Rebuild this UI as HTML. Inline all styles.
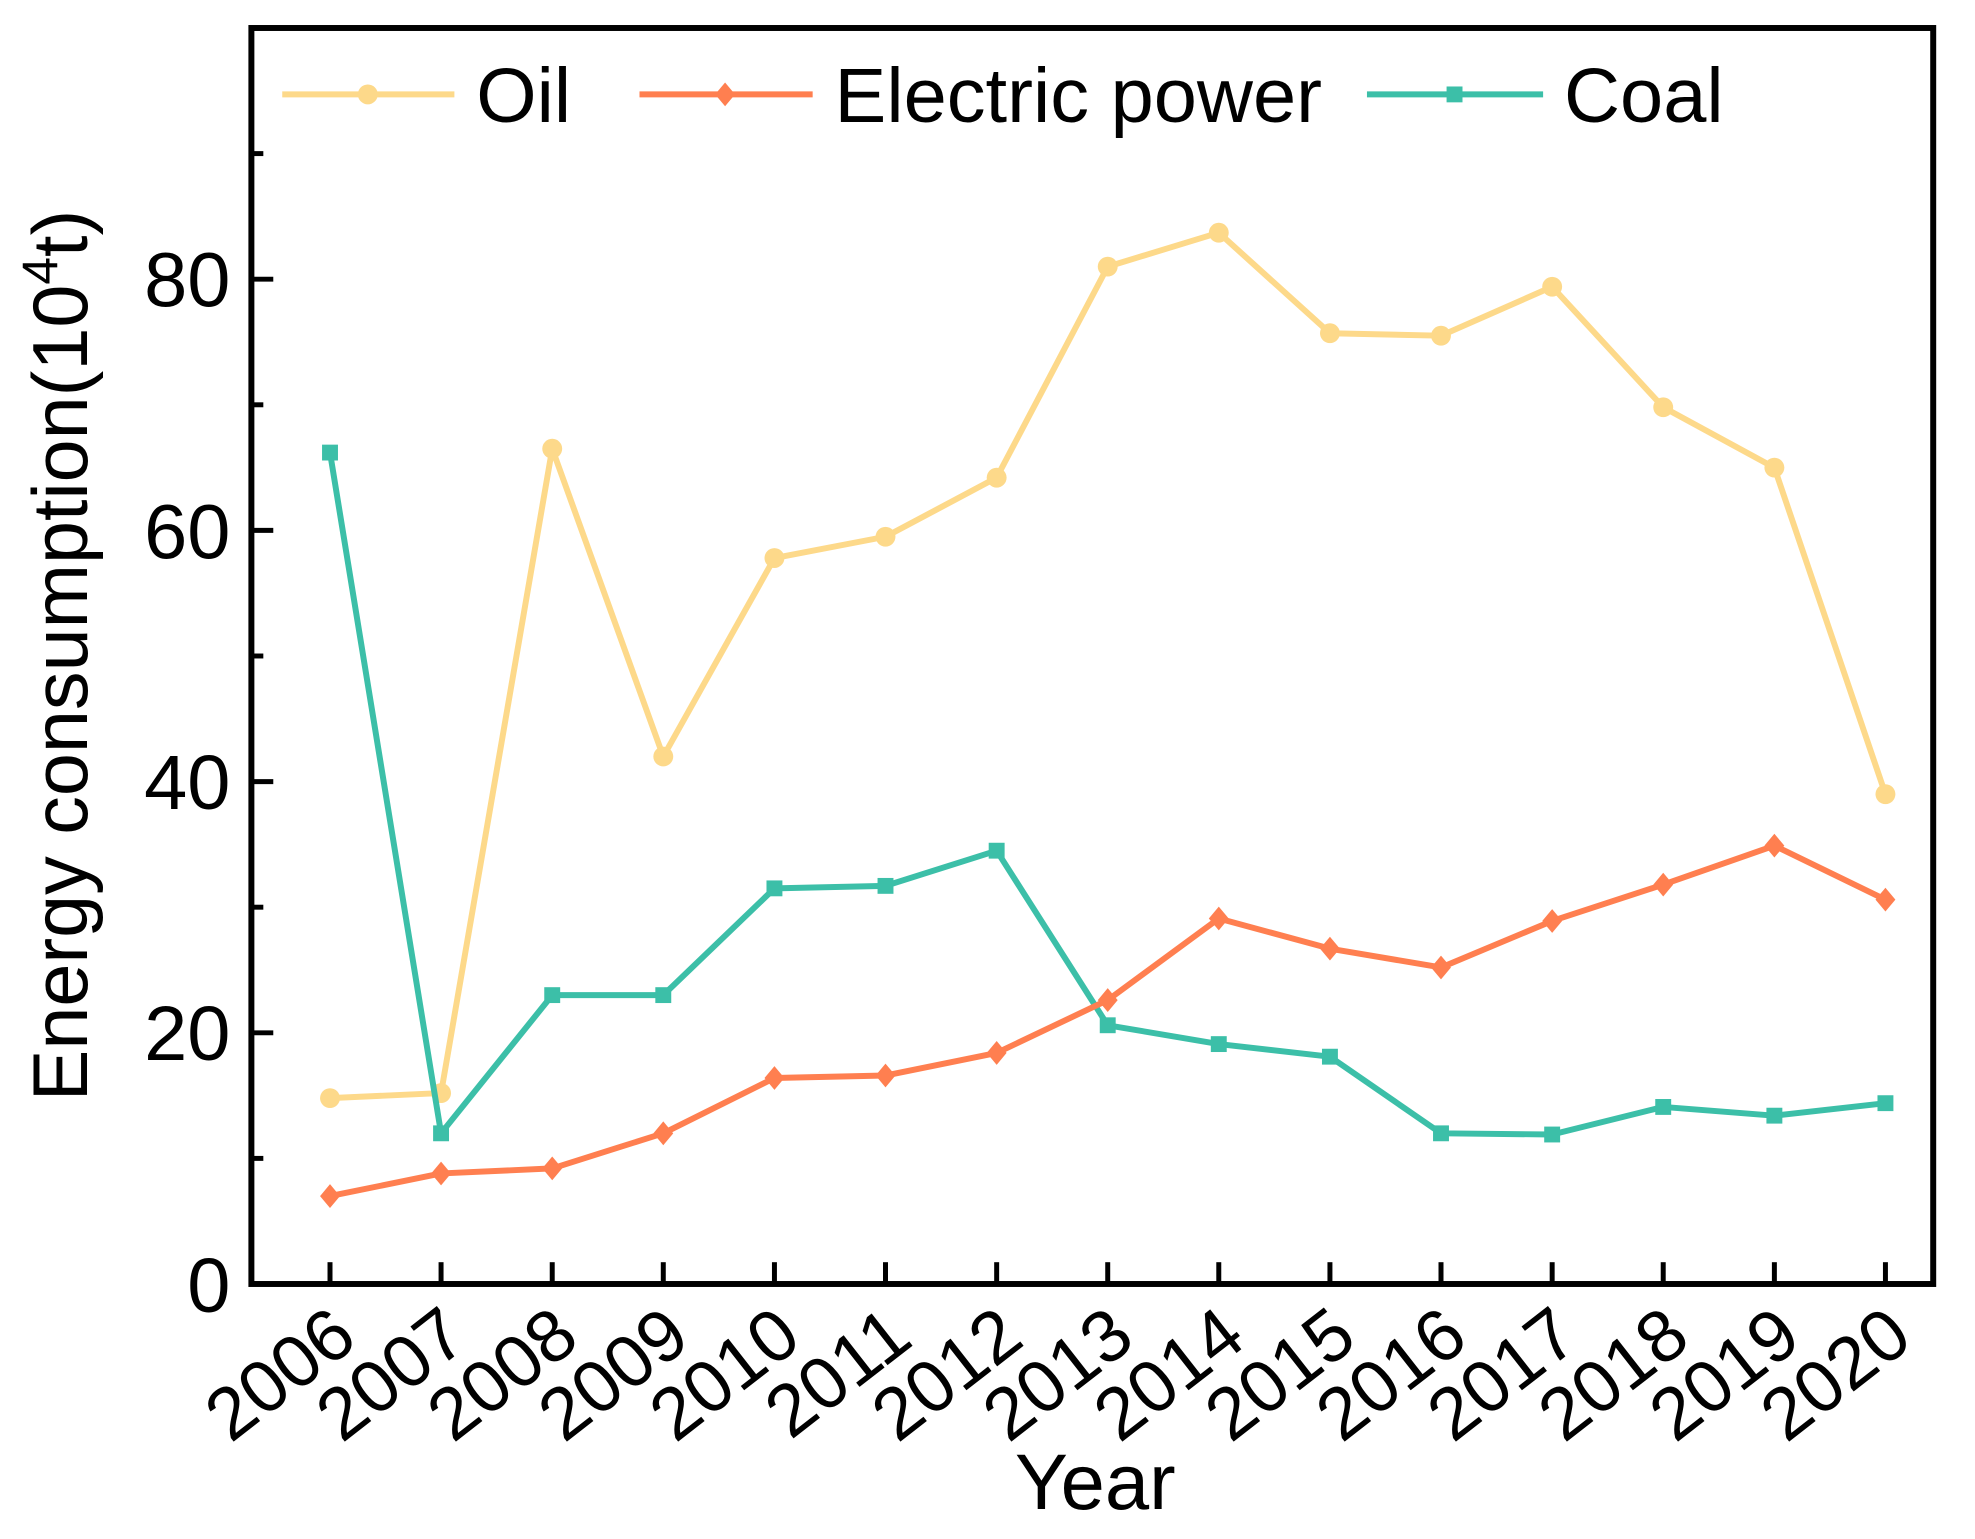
<!DOCTYPE html>
<html><head><meta charset="utf-8"><style>html,body{margin:0;padding:0;background:#fff;}svg{display:block}</style></head>
<body>
<svg width="1975" height="1539" viewBox="0 0 1975 1539" xmlns="http://www.w3.org/2000/svg" font-family="Liberation Sans, Arial, sans-serif">
<defs>
<g id="dia"><path d="M0,-12 L10,0 L0,12 L-10,0 Z"/></g>
</defs>
<g transform="matrix(0.99516 0 0 0.99132 -0.39 3.21)">
<!-- axes box -->
<rect x="253" y="25" width="1690" height="1267" fill="none" stroke="#000" stroke-width="6"/>
<!-- y ticks -->
<g stroke="#000" stroke-width="5">
<line x1="253" y1="1292" x2="275" y2="1292"/><line x1="253" y1="1038.6" x2="275" y2="1038.6"/><line x1="253" y1="785.2" x2="275" y2="785.2"/><line x1="253" y1="531.8" x2="275" y2="531.8"/><line x1="253" y1="278.4" x2="275" y2="278.4"/>
<line x1="253" y1="1165.3" x2="265" y2="1165.3"/><line x1="253" y1="911.9" x2="265" y2="911.9"/><line x1="253" y1="658.5" x2="265" y2="658.5"/><line x1="253" y1="405.1" x2="265" y2="405.1"/><line x1="253" y1="151.7" x2="265" y2="151.7"/>
</g>
<g font-size="78" text-anchor="end" fill="#000">
<text x="232" y="1320">0</text><text x="232" y="1066">20</text><text x="232" y="813">40</text><text x="232" y="560">60</text><text x="232" y="306">80</text>
</g>
<!-- x ticks and labels -->
<g stroke="#000" stroke-width="5">
<line x1="332" y1="1292" x2="332" y2="1270"/><line x1="443.6" y1="1292" x2="443.6" y2="1270"/><line x1="555.3" y1="1292" x2="555.3" y2="1270"/><line x1="666.9" y1="1292" x2="666.9" y2="1270"/><line x1="778.6" y1="1292" x2="778.6" y2="1270"/><line x1="890.2" y1="1292" x2="890.2" y2="1270"/><line x1="1001.9" y1="1292" x2="1001.9" y2="1270"/><line x1="1113.5" y1="1292" x2="1113.5" y2="1270"/><line x1="1225.1" y1="1292" x2="1225.1" y2="1270"/><line x1="1336.8" y1="1292" x2="1336.8" y2="1270"/><line x1="1448.4" y1="1292" x2="1448.4" y2="1270"/><line x1="1560.1" y1="1292" x2="1560.1" y2="1270"/><line x1="1671.7" y1="1292" x2="1671.7" y2="1270"/><line x1="1783.4" y1="1292" x2="1783.4" y2="1270"/><line x1="1895" y1="1292" x2="1895" y2="1270"/>
</g>
<g font-size="74" text-anchor="end" fill="#000">
<text transform="translate(362,1352) rotate(-38)">2006</text>
<text transform="translate(473.6,1352) rotate(-38)">2007</text>
<text transform="translate(585.3,1352) rotate(-38)">2008</text>
<text transform="translate(696.9,1352) rotate(-38)">2009</text>
<text transform="translate(808.6,1352) rotate(-38)">2010</text>
<text transform="translate(920.2,1352) rotate(-38)">2011</text>
<text transform="translate(1031.9,1352) rotate(-38)">2012</text>
<text transform="translate(1143.5,1352) rotate(-38)">2013</text>
<text transform="translate(1255.1,1352) rotate(-38)">2014</text>
<text transform="translate(1366.8,1352) rotate(-38)">2015</text>
<text transform="translate(1478.4,1352) rotate(-38)">2016</text>
<text transform="translate(1590.1,1352) rotate(-38)">2017</text>
<text transform="translate(1701.7,1352) rotate(-38)">2018</text>
<text transform="translate(1813.4,1352) rotate(-38)">2019</text>
<text transform="translate(1925,1352) rotate(-38)">2020</text>
</g>
<text x="1101" y="1519" font-size="80" text-anchor="middle">Year</text>
<text transform="translate(88,658) rotate(-90)" font-size="78" text-anchor="middle">Energy consumption(10<tspan font-size="50" dy="-30">4</tspan><tspan dy="30">t)</tspan></text>
<!-- series -->
<polyline fill="none" stroke="#FDD98A" stroke-width="6" stroke-linejoin="round" points="332,1104.5 443.6,1099.4 555.3,449.4 666.9,759.9 778.6,559.7 890.2,538.2 1001.9,478.6 1113.5,265.7 1225.1,231.5 1336.8,332.9 1448.4,335.4 1560.1,286 1671.7,407.6 1783.4,468.5 1895,797.9"/>
<g fill="#FDD98A"><circle cx="332" cy="1104.5" r="10"/><circle cx="443.6" cy="1099.4" r="10"/><circle cx="555.3" cy="449.4" r="10"/><circle cx="666.9" cy="759.9" r="10"/><circle cx="778.6" cy="559.7" r="10"/><circle cx="890.2" cy="538.2" r="10"/><circle cx="1001.9" cy="478.6" r="10"/><circle cx="1113.5" cy="265.7" r="10"/><circle cx="1225.1" cy="231.5" r="10"/><circle cx="1336.8" cy="332.9" r="10"/><circle cx="1448.4" cy="335.4" r="10"/><circle cx="1560.1" cy="286" r="10"/><circle cx="1671.7" cy="407.6" r="10"/><circle cx="1783.4" cy="468.5" r="10"/><circle cx="1895" cy="797.9" r="10"/></g>
<polyline fill="none" stroke="#3CBFA8" stroke-width="6" stroke-linejoin="round" points="332,453.3 443.6,1140 555.3,1000.6 666.9,1000.6 778.6,892.9 890.2,890.4 1001.9,854.9 1113.5,1031 1225.1,1050 1336.8,1062.7 1448.4,1140 1560.1,1141.2 1671.7,1113.4 1783.4,1122.2 1895,1109.6"/>
<g fill="#3CBFA8"><rect x="324" y="445.3" width="16" height="16"/><rect x="435.6" y="1132" width="16" height="16"/><rect x="547.3" y="992.6" width="16" height="16"/><rect x="658.9" y="992.6" width="16" height="16"/><rect x="770.6" y="884.9" width="16" height="16"/><rect x="882.2" y="882.4" width="16" height="16"/><rect x="993.9" y="846.9" width="16" height="16"/><rect x="1105.5" y="1023" width="16" height="16"/><rect x="1217.1" y="1042" width="16" height="16"/><rect x="1328.8" y="1054.7" width="16" height="16"/><rect x="1440.4" y="1132" width="16" height="16"/><rect x="1552.1" y="1133.2" width="16" height="16"/><rect x="1663.7" y="1105.4" width="16" height="16"/><rect x="1775.4" y="1114.2" width="16" height="16"/><rect x="1887" y="1101.6" width="16" height="16"/></g>
<polyline fill="none" stroke="#FF7F50" stroke-width="6" stroke-linejoin="round" points="332,1203.3 443.6,1180.5 555.3,1175.4 666.9,1140 778.6,1084.2 890.2,1081.7 1001.9,1058.9 1113.5,1005.6 1225.1,923.3 1336.8,953.7 1448.4,972.7 1560.1,925.8 1671.7,889.1 1783.4,849.8 1895,904.3"/>
<g fill="#FF7F50"><use href="#dia" x="332" y="1203.3"/><use href="#dia" x="443.6" y="1180.5"/><use href="#dia" x="555.3" y="1175.4"/><use href="#dia" x="666.9" y="1140"/><use href="#dia" x="778.6" y="1084.2"/><use href="#dia" x="890.2" y="1081.7"/><use href="#dia" x="1001.9" y="1058.9"/><use href="#dia" x="1113.5" y="1005.6"/><use href="#dia" x="1225.1" y="923.3"/><use href="#dia" x="1336.8" y="953.7"/><use href="#dia" x="1448.4" y="972.7"/><use href="#dia" x="1560.1" y="925.8"/><use href="#dia" x="1671.7" y="889.1"/><use href="#dia" x="1783.4" y="849.8"/><use href="#dia" x="1895" y="904.3"/></g>
<!-- legend -->
<line x1="284" y1="92" x2="457" y2="92" stroke="#FDD98A" stroke-width="6"/><circle cx="370" cy="92" r="10" fill="#FDD98A"/>
<text x="479" y="120" font-size="78">Oil</text>
<line x1="643" y1="92" x2="817" y2="92" stroke="#FF7F50" stroke-width="6"/><use href="#dia" x="729" y="92" fill="#FF7F50"/>
<text x="839" y="120" font-size="78">Electric power</text>
<line x1="1374" y1="92" x2="1551" y2="92" stroke="#3CBFA8" stroke-width="6"/><rect x="1454" y="84" width="16" height="16" fill="#3CBFA8"/>
<text x="1572" y="120" font-size="78">Coal</text>
</g>
</svg>
</body></html>
